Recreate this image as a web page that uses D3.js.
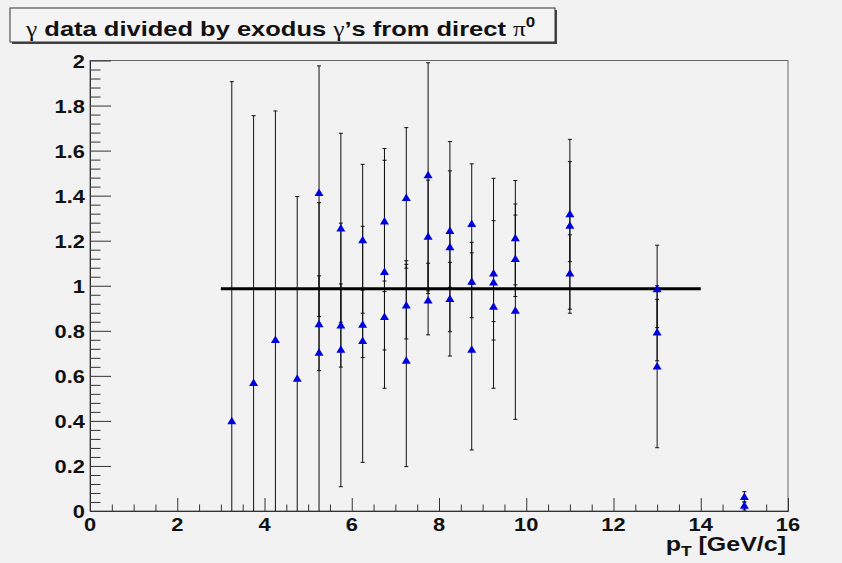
<!DOCTYPE html>
<html><head><meta charset="utf-8">
<script src="https://cdn.jsdelivr.net/npm/d3@7/dist/d3.min.js"></script>
<style>body{margin:0;background:#f2f2f2;} svg{display:block}</style>
</head><body>
<svg id="c" width="842" height="563"></svg>
<script>
// ---------------- data ----------------
const xTickLabels = [0, 2, 4, 6, 8, 10, 12, 14, 16];
const yTickLabels = [0, 0.2, 0.4, 0.6, 0.8, 1, 1.2, 1.4, 1.6, 1.8, 2];

// series A (upper points)
const pTA   = [5.25, 5.75, 6.25, 6.75, 7.25, 7.75, 8.25, 8.75, 9.25, 9.75, 11, 13, 15];
const valA  = [1.412, 1.254, 1.202, 1.285, 1.390, 1.491, 1.243, 1.274, 1.054, 1.211, 1.317, 0.984, 0.062];
const loA   = [0.863, 0.838, 0.878, 0.974, 1.078, 0.977, 0.993, 1.007, 0.841, 0.952, 1.107, 0.814, 0.040];
const hiA   = [1.976, 1.677, 1.539, 1.609, 1.702, 1.990, 1.510, 1.541, 1.289, 1.467, 1.551, 1.180, 0.086];

// series B (middle points)
const pTB   = [5.25, 5.75, 6.25, 6.75, 7.25, 7.75, 8.25, 8.75, 9.25, 9.75, 11, 13, 15];
const valB  = [0.829, 0.823, 0.827, 1.061, 0.912, 1.217, 1.171, 1.018, 1.014, 1.119, 1.266, 0.792, 0.023];
const loB   = [0.623, 0.639, 0.681, 0.545, 0.764, 0.965, 0.688, 0.858, 0.545, 1.004, 0.896, 0.667, 0.005];
const hiB   = [1.044, 1.008, 0.980, 1.557, 1.095, 1.469, 1.640, 1.193, 1.477, 1.314, 1.650, 0.940, 0.040];

// series C (wide error points)
const pTC   = [3.25, 3.75, 4.25, 4.75, 5.25, 5.75, 6.25, 6.75, 7.25, 7.75, 8.25, 8.75, 9.25, 9.75, 11, 13];
const valC  = [0.398, 0.568, 0.759, 0.587, 0.703, 0.716, 0.755, 0.861, 0.667, 0.934, 0.941, 0.716, 0.907, 0.889, 1.054, 0.641];
const loC   = [-1.11, -0.62, -0.26, -0.22, -0.02, 0.108, 0.216, 0.715, 0.197, 0.782, 0.796, 0.271, 0.759, 0.407, 0.878, 0.281];
const hiC   = [1.906, 1.755, 1.776, 1.396, 1.369, 1.278, 1.264, 1.021, 1.111, 1.100, 1.104, 1.146, 1.055, 1.363, 1.226, 1.000];

// constant fit
const fitValue = 0.987;
const fitRange = [3, 14];

// ---------------- drawing ----------------
const W = 842, H = 563;
const svg = d3.select("#c");
svg.append("rect").attr("width", W).attr("height", H).attr("fill", "#f2f2f2");

const x = d3.scaleLinear().domain([0, 16]).range([90, 788]);
const y = d3.scaleLinear().domain([0, 2]).range([511, 60.5]);

const FONT = "'Liberation Sans', Arial, Helvetica, sans-serif";
const SERIF = "'Liberation Serif', 'Times New Roman', serif";

// clip
svg.append("clipPath").attr("id", "plotclip").append("rect")
  .attr("x", x(0)).attr("y", y(2)).attr("width", x(16) - x(0)).attr("height", y(0) - y(2));

// frame
svg.append("rect").attr("x", x(0)).attr("y", y(2))
  .attr("width", x(16) - x(0)).attr("height", y(0) - y(2))
  .attr("fill", "none").attr("stroke", "#666").attr("stroke-width", 1);

// axes (ticks inward)
const xMinor = d3.range(0, 16.001, 0.5).filter(v => Math.abs(v / 2 - Math.round(v / 2)) > 1e-6);
const yMinor = d3.range(0, 101).map(i => i * 0.04).filter(v => v <= 2.0001 && Math.abs(v / 0.2 - Math.round(v / 0.2)) > 1e-6);

function styleAxis(g) {
  g.select(".domain").attr("stroke", "#333");
  g.selectAll(".tick line").attr("stroke", "#333");
  g.selectAll(".tick text").remove();
}
svg.append("g").attr("transform", `translate(0,${y(0)})`)
  .call(d3.axisBottom(x).tickValues(xTickLabels).tickSize(-13).tickSizeOuter(0)).call(styleAxis);
svg.append("g").attr("transform", `translate(0,${y(0)})`)
  .call(d3.axisBottom(x).tickValues(xMinor).tickSize(-6.5).tickSizeOuter(0)).call(styleAxis);
svg.append("g").attr("transform", `translate(${x(0)},0)`)
  .call(d3.axisLeft(y).tickValues(yTickLabels).tickSize(-21).tickSizeOuter(0)).call(styleAxis);
svg.append("g").attr("transform", `translate(${x(0)},0)`)
  .call(d3.axisLeft(y).tickValues(yMinor).tickSize(-10.5).tickSizeOuter(0)).call(styleAxis);

// tick labels
const LSX = 1.15, LFS = 19;
svg.append("g").selectAll("text").data(xTickLabels).join("text")
  .attr("transform", d => `translate(${x(d)},${y(0) + 20}) scale(${LSX},1)`)
  .attr("text-anchor", "middle").attr("font-family", FONT).attr("font-weight", "bold")
  .attr("font-size", LFS).attr("fill", "#111").text(d => d);
svg.append("g").selectAll("text").data(yTickLabels).join("text")
  .attr("transform", d => `translate(${x(0) - 5},${y(d) + 7}) scale(${LSX},1)`)
  .attr("text-anchor", "end").attr("font-family", FONT).attr("font-weight", "bold")
  .attr("font-size", LFS).attr("fill", "#111").text(d => +d.toFixed(1));

// axis title
const xt = svg.append("text").attr("font-family", FONT).attr("font-weight", "bold")
  .attr("font-size", 20).attr("fill", "#111").attr("text-anchor", "end");
xt.append("tspan").text("p");
xt.append("tspan").attr("font-size", 14).attr("dy", 5).text("T");
xt.append("tspan").attr("dy", -5).text(" [GeV/c]");
xt.attr("transform", `translate(786,551) scale(1.25,1)`);

// error bars
function drawSeries(px, val, lo, hi) {
  const data = px.map((p, i) => ({ p, v: val[i], lo: lo[i], hi: hi[i] }));
  const g = svg.append("g").attr("clip-path", "url(#plotclip)");
  g.selectAll("line.eb").data(data).join("line").attr("class", "eb")
    .attr("x1", d => x(d.p)).attr("x2", d => x(d.p))
    .attr("y1", d => y(d.lo)).attr("y2", d => y(d.hi))
    .attr("stroke", "#111").attr("stroke-width", 1);
  const caps = [];
  data.forEach(d => { [d.lo, d.hi].forEach(e => { if (e >= 0 && e <= 2) caps.push({ p: d.p, e }); }); });
  g.selectAll("line.cap").data(caps).join("line").attr("class", "cap")
    .attr("x1", d => x(d.p) - 2).attr("x2", d => x(d.p) + 2)
    .attr("y1", d => y(d.e)).attr("y2", d => y(d.e))
    .attr("stroke", "#111").attr("stroke-width", 1);
  return data;
}
const dA = drawSeries(pTA, valA, loA, hiA);
const dB = drawSeries(pTB, valB, loB, hiB);
const dC = drawSeries(pTC, valC, loC, hiC);

// fit line
svg.append("line")
  .attr("x1", x(fitRange[0])).attr("x2", x(fitRange[1]))
  .attr("y1", y(fitValue)).attr("y2", y(fitValue))
  .attr("stroke", "#000").attr("stroke-width", 3);

// markers
const tri = "M0,-4.5L4.5,3L-4.5,3Z";
[dA, dB, dC].forEach(data => {
  svg.append("g").selectAll("path").data(data).join("path")
    .attr("transform", d => `translate(${x(d.p)},${y(d.v)})`)
    .attr("d", tri).attr("fill", "#0000dd");
});

// title box
const tb = { x: 10, y: 8, w: 545, h: 34 };
svg.append("rect").attr("x", tb.x + 2).attr("y", tb.y + 2).attr("width", tb.w).attr("height", tb.h).attr("fill", "#444");
svg.append("rect").attr("x", tb.x).attr("y", tb.y).attr("width", tb.w).attr("height", tb.h)
  .attr("fill", "#f4f4f4").attr("stroke", "#333").attr("stroke-width", 1);
const tt = svg.append("text").attr("font-family", FONT).attr("font-weight", "bold")
  .attr("font-size", 21).attr("fill", "#111");
tt.append("tspan").attr("font-family", SERIF).attr("font-weight", "normal").text("γ");
tt.append("tspan").text(" data divided by exodus ");
tt.append("tspan").attr("font-family", SERIF).attr("font-weight", "normal").text("γ");
tt.append("tspan").text("’s from direct ");
tt.append("tspan").attr("font-family", SERIF).attr("font-weight", "normal").text("π");
tt.append("tspan").attr("font-size", 14).attr("dy", -9).text("0");
const tw = tt.node().getBBox().width;
tt.attr("transform", `translate(26,36) scale(${511 / tw},1)`);
</script>
</body></html>
